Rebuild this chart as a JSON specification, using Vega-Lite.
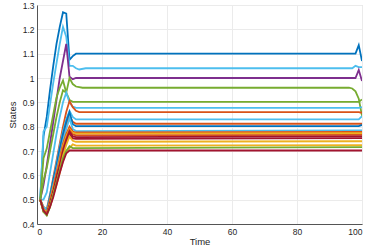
{
  "$schema": "https://vega.github.io/schema/vega-lite/v6.json",
  "width": 325,
  "height": 219,
  "autosize": {"type": "none"},
  "padding": {"left": 37, "top": 5, "right": 12, "bottom": 25},
  "background": "white",
  "config": {
    "view": {"stroke": "#d9d9d9", "strokeWidth": 1},
    "font": "Liberation Sans",
    "axis": {
      "labelFont": "Liberation Sans",
      "titleFont": "Liberation Sans",
      "labelFontSize": 8.5,
      "titleFontSize": 10,
      "titleFontWeight": "normal",
      "labelColor": "#262626",
      "titleColor": "#262626",
      "domainColor": "#555555",
      "gridColor": "#ebebeb",
      "ticks": false,
      "labelPadding": 3
    }
  },
  "data": {
    "values": [
      {"s":"s01","t":1,"v":0.5},{"s":"s01","t":2,"v":0.76},{"s":"s01","t":3,"v":0.84},{"s":"s01","t":4,"v":0.95},{"s":"s01","t":5,"v":1.05},{"s":"s01","t":6,"v":1.14},{"s":"s01","t":7,"v":1.21},{"s":"s01","t":8,"v":1.27},{"s":"s01","t":9,"v":1.265},{"s":"s01","t":10,"v":1.075},{"s":"s01","t":11,"v":1.09},{"s":"s01","t":12,"v":1.1},{"s":"s01","t":98,"v":1.1},{"s":"s01","t":99,"v":1.135},{"s":"s01","t":100,"v":1.07},

      {"s":"s02","t":1,"v":0.5},{"s":"s02","t":2,"v":0.78},{"s":"s02","t":3,"v":0.8},{"s":"s02","t":4,"v":0.89},{"s":"s02","t":5,"v":0.98},{"s":"s02","t":6,"v":1.06},{"s":"s02","t":7,"v":1.14},{"s":"s02","t":8,"v":1.21},{"s":"s02","t":9,"v":1.17},{"s":"s02","t":10,"v":1.05},{"s":"s02","t":11,"v":1.05},{"s":"s02","t":12,"v":1.04},{"s":"s02","t":13,"v":1.035},{"s":"s02","t":15,"v":1.04},{"s":"s02","t":97,"v":1.04},{"s":"s02","t":98,"v":1.05},{"s":"s02","t":99,"v":1.045},{"s":"s02","t":100,"v":1.045},

      {"s":"s03","t":1,"v":0.5},{"s":"s03","t":2,"v":0.56},{"s":"s03","t":3,"v":0.64},{"s":"s03","t":4,"v":0.73},{"s":"s03","t":5,"v":0.82},{"s":"s03","t":6,"v":0.91},{"s":"s03","t":7,"v":1.0},{"s":"s03","t":8,"v":1.07},{"s":"s03","t":9,"v":1.14},{"s":"s03","t":10,"v":1.005},{"s":"s03","t":11,"v":0.995},{"s":"s03","t":12,"v":1.0},{"s":"s03","t":98,"v":1.0},{"s":"s03","t":99,"v":1.033},{"s":"s03","t":100,"v":0.988},

      {"s":"s04","t":1,"v":0.5},{"s":"s04","t":2,"v":0.58},{"s":"s04","t":3,"v":0.63},{"s":"s04","t":4,"v":0.7},{"s":"s04","t":5,"v":0.77},{"s":"s04","t":6,"v":0.84},{"s":"s04","t":7,"v":0.9},{"s":"s04","t":8,"v":0.95},{"s":"s04","t":9,"v":0.94},{"s":"s04","t":10,"v":1.0},{"s":"s04","t":11,"v":0.975},{"s":"s04","t":12,"v":0.965},{"s":"s04","t":14,"v":0.96},{"s":"s04","t":96,"v":0.96},{"s":"s04","t":97,"v":0.957},{"s":"s04","t":98,"v":0.945},{"s":"s04","t":99,"v":0.915},{"s":"s04","t":100,"v":0.845},

      {"s":"s05","t":1,"v":0.5},{"s":"s05","t":2,"v":0.67},{"s":"s05","t":3,"v":0.71},{"s":"s05","t":4,"v":0.78},{"s":"s05","t":5,"v":0.85},{"s":"s05","t":6,"v":0.92},{"s":"s05","t":7,"v":0.96},{"s":"s05","t":8,"v":0.99},{"s":"s05","t":9,"v":0.94},{"s":"s05","t":10,"v":0.91},{"s":"s05","t":11,"v":0.902},{"s":"s05","t":99,"v":0.902},{"s":"s05","t":100,"v":0.912},

      {"s":"s06","t":1,"v":0.5},{"s":"s06","t":2,"v":0.5},{"s":"s06","t":3,"v":0.53},{"s":"s06","t":4,"v":0.61},{"s":"s06","t":5,"v":0.69},{"s":"s06","t":6,"v":0.77},{"s":"s06","t":7,"v":0.84},{"s":"s06","t":8,"v":0.9},{"s":"s06","t":9,"v":0.94},{"s":"s06","t":10,"v":0.9},{"s":"s06","t":11,"v":0.882},{"s":"s06","t":12,"v":0.877},{"s":"s06","t":99,"v":0.877},{"s":"s06","t":100,"v":0.88},

      {"s":"s07","t":1,"v":0.5},{"s":"s07","t":2,"v":0.47},{"s":"s07","t":3,"v":0.46},{"s":"s07","t":4,"v":0.52},{"s":"s07","t":5,"v":0.59},{"s":"s07","t":6,"v":0.66},{"s":"s07","t":7,"v":0.73},{"s":"s07","t":8,"v":0.8},{"s":"s07","t":9,"v":0.86},{"s":"s07","t":10,"v":0.905},{"s":"s07","t":11,"v":0.88},{"s":"s07","t":12,"v":0.865},{"s":"s07","t":13,"v":0.86},{"s":"s07","t":99,"v":0.86},{"s":"s07","t":100,"v":0.857},

      {"s":"s08","t":1,"v":0.5},{"s":"s08","t":2,"v":0.47},{"s":"s08","t":3,"v":0.46},{"s":"s08","t":4,"v":0.52},{"s":"s08","t":5,"v":0.58},{"s":"s08","t":6,"v":0.65},{"s":"s08","t":7,"v":0.72},{"s":"s08","t":8,"v":0.78},{"s":"s08","t":9,"v":0.83},{"s":"s08","t":10,"v":0.865},{"s":"s08","t":11,"v":0.84},{"s":"s08","t":12,"v":0.83},{"s":"s08","t":99,"v":0.83},{"s":"s08","t":100,"v":0.843},

      {"s":"s09","t":1,"v":0.5},{"s":"s09","t":2,"v":0.46},{"s":"s09","t":3,"v":0.45},{"s":"s09","t":4,"v":0.51},{"s":"s09","t":5,"v":0.57},{"s":"s09","t":6,"v":0.63},{"s":"s09","t":7,"v":0.7},{"s":"s09","t":8,"v":0.76},{"s":"s09","t":9,"v":0.81},{"s":"s09","t":10,"v":0.845},{"s":"s09","t":11,"v":0.82},{"s":"s09","t":12,"v":0.812},{"s":"s09","t":100,"v":0.812},

      {"s":"s10","t":1,"v":0.5},{"s":"s10","t":2,"v":0.46},{"s":"s10","t":3,"v":0.45},{"s":"s10","t":4,"v":0.51},{"s":"s10","t":5,"v":0.58},{"s":"s10","t":6,"v":0.64},{"s":"s10","t":7,"v":0.71},{"s":"s10","t":8,"v":0.77},{"s":"s10","t":9,"v":0.82},{"s":"s10","t":10,"v":0.86},{"s":"s10","t":11,"v":0.81},{"s":"s10","t":12,"v":0.802},{"s":"s10","t":99,"v":0.802},{"s":"s10","t":100,"v":0.807},

      {"s":"s11","t":1,"v":0.5},{"s":"s11","t":2,"v":0.46},{"s":"s11","t":3,"v":0.45},{"s":"s11","t":4,"v":0.5},{"s":"s11","t":5,"v":0.56},{"s":"s11","t":6,"v":0.62},{"s":"s11","t":7,"v":0.68},{"s":"s11","t":8,"v":0.74},{"s":"s11","t":9,"v":0.79},{"s":"s11","t":10,"v":0.835},{"s":"s11","t":11,"v":0.79},{"s":"s11","t":12,"v":0.782},{"s":"s11","t":100,"v":0.785},

      {"s":"s12","t":1,"v":0.5},{"s":"s12","t":2,"v":0.46},{"s":"s12","t":3,"v":0.445},{"s":"s12","t":4,"v":0.5},{"s":"s12","t":5,"v":0.55},{"s":"s12","t":6,"v":0.61},{"s":"s12","t":7,"v":0.67},{"s":"s12","t":8,"v":0.73},{"s":"s12","t":9,"v":0.77},{"s":"s12","t":10,"v":0.8},{"s":"s12","t":11,"v":0.78},{"s":"s12","t":12,"v":0.776},{"s":"s12","t":100,"v":0.778},

      {"s":"s13","t":1,"v":0.5},{"s":"s13","t":2,"v":0.46},{"s":"s13","t":3,"v":0.445},{"s":"s13","t":4,"v":0.49},{"s":"s13","t":5,"v":0.55},{"s":"s13","t":6,"v":0.6},{"s":"s13","t":7,"v":0.66},{"s":"s13","t":8,"v":0.72},{"s":"s13","t":9,"v":0.76},{"s":"s13","t":10,"v":0.79},{"s":"s13","t":11,"v":0.775},{"s":"s13","t":12,"v":0.771},{"s":"s13","t":100,"v":0.773},

      {"s":"s14","t":1,"v":0.5},{"s":"s14","t":2,"v":0.455},{"s":"s14","t":3,"v":0.44},{"s":"s14","t":4,"v":0.49},{"s":"s14","t":5,"v":0.54},{"s":"s14","t":6,"v":0.6},{"s":"s14","t":7,"v":0.65},{"s":"s14","t":8,"v":0.71},{"s":"s14","t":9,"v":0.75},{"s":"s14","t":10,"v":0.785},{"s":"s14","t":11,"v":0.768},{"s":"s14","t":12,"v":0.764},{"s":"s14","t":100,"v":0.766},

      {"s":"s15","t":1,"v":0.5},{"s":"s15","t":2,"v":0.455},{"s":"s15","t":3,"v":0.44},{"s":"s15","t":4,"v":0.48},{"s":"s15","t":5,"v":0.53},{"s":"s15","t":6,"v":0.59},{"s":"s15","t":7,"v":0.64},{"s":"s15","t":8,"v":0.7},{"s":"s15","t":9,"v":0.745},{"s":"s15","t":10,"v":0.78},{"s":"s15","t":11,"v":0.76},{"s":"s15","t":12,"v":0.757},{"s":"s15","t":100,"v":0.76},

      {"s":"s16","t":1,"v":0.5},{"s":"s16","t":2,"v":0.45},{"s":"s16","t":3,"v":0.44},{"s":"s16","t":4,"v":0.48},{"s":"s16","t":5,"v":0.53},{"s":"s16","t":6,"v":0.58},{"s":"s16","t":7,"v":0.63},{"s":"s16","t":8,"v":0.69},{"s":"s16","t":9,"v":0.735},{"s":"s16","t":10,"v":0.77},{"s":"s16","t":11,"v":0.752},{"s":"s16","t":12,"v":0.75},{"s":"s16","t":100,"v":0.753},

      {"s":"s17","t":1,"v":0.5},{"s":"s17","t":2,"v":0.45},{"s":"s17","t":3,"v":0.44},{"s":"s17","t":4,"v":0.475},{"s":"s17","t":5,"v":0.52},{"s":"s17","t":6,"v":0.57},{"s":"s17","t":7,"v":0.62},{"s":"s17","t":8,"v":0.68},{"s":"s17","t":9,"v":0.725},{"s":"s17","t":10,"v":0.76},{"s":"s17","t":11,"v":0.742},{"s":"s17","t":12,"v":0.738},{"s":"s17","t":100,"v":0.74},

      {"s":"s18","t":1,"v":0.5},{"s":"s18","t":2,"v":0.455},{"s":"s18","t":3,"v":0.44},{"s":"s18","t":4,"v":0.47},{"s":"s18","t":5,"v":0.52},{"s":"s18","t":6,"v":0.56},{"s":"s18","t":7,"v":0.61},{"s":"s18","t":8,"v":0.66},{"s":"s18","t":9,"v":0.7},{"s":"s18","t":10,"v":0.712},{"s":"s18","t":11,"v":0.727},{"s":"s18","t":12,"v":0.722},{"s":"s18","t":100,"v":0.724},

      {"s":"s19","t":1,"v":0.5},{"s":"s19","t":2,"v":0.45},{"s":"s19","t":3,"v":0.435},{"s":"s19","t":4,"v":0.47},{"s":"s19","t":5,"v":0.52},{"s":"s19","t":6,"v":0.57},{"s":"s19","t":7,"v":0.62},{"s":"s19","t":8,"v":0.67},{"s":"s19","t":9,"v":0.7},{"s":"s19","t":10,"v":0.72},{"s":"s19","t":11,"v":0.712},{"s":"s19","t":100,"v":0.716},

      {"s":"s20","t":1,"v":0.5},{"s":"s20","t":2,"v":0.455},{"s":"s20","t":3,"v":0.44},{"s":"s20","t":4,"v":0.47},{"s":"s20","t":5,"v":0.51},{"s":"s20","t":6,"v":0.56},{"s":"s20","t":7,"v":0.61},{"s":"s20","t":8,"v":0.655},{"s":"s20","t":9,"v":0.69},{"s":"s20","t":10,"v":0.702},{"s":"s20","t":100,"v":0.702}
    ]
  },
  "mark": {"type": "line", "strokeWidth": 1.8, "clip": true},
  "encoding": {
    "x": {
      "field": "t", "type": "quantitative",
      "scale": {"domain": [0, 100], "nice": false},
      "axis": {"values": [0, 20, 40, 60, 80, 100], "title": "Time", "titlePadding": 1, "titleFontSize": 9.5}
    },
    "y": {
      "field": "v", "type": "quantitative",
      "scale": {"domain": [0.4, 1.3], "nice": false, "zero": false},
      "axis": {"values": [0.4, 0.5, 0.6, 0.7, 0.8, 0.9, 1.0, 1.1, 1.2, 1.3], "format": "~g", "title": "States", "titlePadding": 5, "titleFontSize": 9.5}
    },
    "color": {
      "field": "s", "type": "nominal", "legend": null,
      "scale": {
        "domain": ["s01","s02","s03","s04","s05","s06","s07","s08","s09","s10","s11","s12","s13","s14","s15","s16","s17","s18","s19","s20"],
        "range": ["#0072BD","#4DBEEE","#7E2F8E","#77AC30","#77AC30","#4DBEEE","#D95319","#4DBEEE","#D95319","#0072BD","#4DBEEE","#D95319","#EDB120","#D95319","#A2142F","#A2142F","#EDB120","#EDB120","#77AC30","#A2142F"]
      }
    }
  }
}
